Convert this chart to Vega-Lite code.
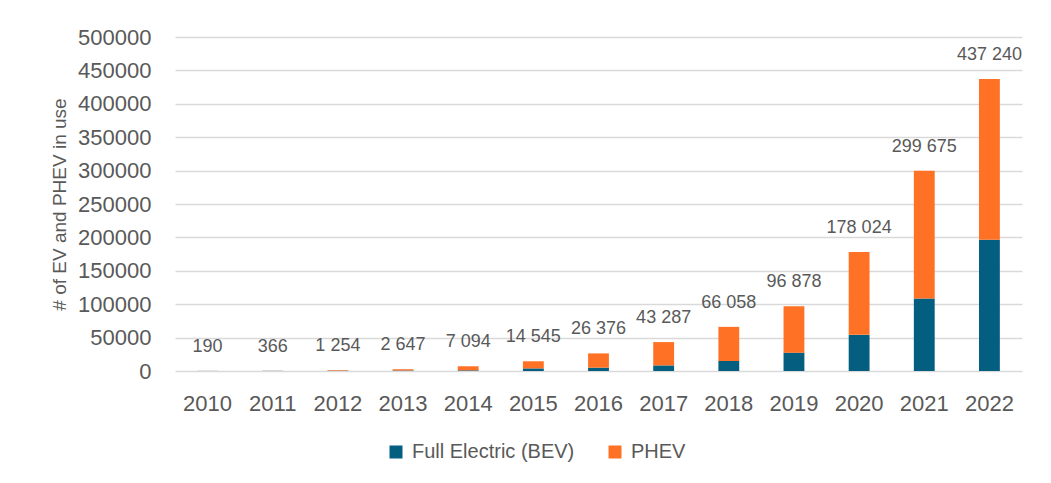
{
  "$schema": "https://vega.github.io/schema/vega-lite/v6.json",
  "width": 847,
  "height": 334,
  "autosize": "none",
  "padding": {"left": 175, "top": 37, "right": 29, "bottom": 112},
  "background": "white",
  "config": {
    "locale": {"number": {"decimal": ".", "thousands": " ", "grouping": [3], "currency": ["", ""]}},
    "view": {"stroke": null},
    "font": "Liberation Sans",
    "axisY": {
      "titleFontSize": 19,
      "titleFontWeight": "normal",
      "titleColor": "#595959",
      "titlePadding": 8,
      "labelOverlap": false,
      "labelFontSize": 22,
      "labelColor": "#595959",
      "labelPadding": 24,
      "ticks": false,
      "domain": false,
      "gridColor": "#D9D9D9",
      "gridWidth": 1.3
    }
  },
  "data": {
    "values": [
      {"year": "2010", "type": "Full Electric (BEV)", "value": 100},
      {"year": "2010", "type": "PHEV", "value": 90},
      {"year": "2011", "type": "Full Electric (BEV)", "value": 200},
      {"year": "2011", "type": "PHEV", "value": 166},
      {"year": "2012", "type": "Full Electric (BEV)", "value": 400},
      {"year": "2012", "type": "PHEV", "value": 854},
      {"year": "2013", "type": "Full Electric (BEV)", "value": 700},
      {"year": "2013", "type": "PHEV", "value": 1947},
      {"year": "2014", "type": "Full Electric (BEV)", "value": 1000},
      {"year": "2014", "type": "PHEV", "value": 6094},
      {"year": "2015", "type": "Full Electric (BEV)", "value": 3900},
      {"year": "2015", "type": "PHEV", "value": 10645},
      {"year": "2016", "type": "Full Electric (BEV)", "value": 5000},
      {"year": "2016", "type": "PHEV", "value": 21376},
      {"year": "2017", "type": "Full Electric (BEV)", "value": 8400},
      {"year": "2017", "type": "PHEV", "value": 34887},
      {"year": "2018", "type": "Full Electric (BEV)", "value": 15000},
      {"year": "2018", "type": "PHEV", "value": 51058},
      {"year": "2019", "type": "Full Electric (BEV)", "value": 27500},
      {"year": "2019", "type": "PHEV", "value": 69378},
      {"year": "2020", "type": "Full Electric (BEV)", "value": 54100},
      {"year": "2020", "type": "PHEV", "value": 123924},
      {"year": "2021", "type": "Full Electric (BEV)", "value": 108700},
      {"year": "2021", "type": "PHEV", "value": 190975},
      {"year": "2022", "type": "Full Electric (BEV)", "value": 196400},
      {"year": "2022", "type": "PHEV", "value": 240840}
    ]
  },
  "encoding": {
    "x": {
      "field": "year",
      "type": "ordinal",
      "scale": {"paddingInner": 0.68, "paddingOuter": 0.34},
      "axis": {
        "title": null,
        "labelAngle": 0,
        "labelFontSize": 22,
        "labelColor": "#595959",
        "labelPadding": 22,
        "ticks": false,
        "domain": false
      }
    }
  },
  "layer": [
    {
      "mark": {"type": "bar"},
      "encoding": {
        "y": {
          "field": "value",
          "type": "quantitative",
          "stack": "zero",
          "scale": {"domain": [0, 500000], "nice": false},
          "axis": {
            "title": "# of EV and PHEV in use",
            "format": "d",
            "values": [0, 50000, 100000, 150000, 200000, 250000, 300000, 350000, 400000, 450000, 500000]
          }
        },
        "color": {
          "field": "type",
          "type": "nominal",
          "scale": {"domain": ["Full Electric (BEV)", "PHEV"], "range": ["#045E80", "#FF7225"]},
          "legend": {
            "title": null,
            "orient": "none",
            "legendX": 211,
            "legendY": 405,
            "padding": 0,
            "direction": "horizontal",
            "symbolType": "square",
            "symbolSize": 169,
            "symbolStrokeWidth": 0,
            "labelFontSize": 20,
            "labelLimit": 400,
            "labelColor": "#595959",
            "labelOffset": 6,
            "columnPadding": 30
          }
        },
        "order": {"field": "type", "sort": "ascending"}
      }
    },
    {
      "transform": [
        {"aggregate": [{"op": "sum", "field": "value", "as": "total"}], "groupby": ["year"]}
      ],
      "mark": {"type": "text", "baseline": "alphabetic", "dy": -19, "fontSize": 18, "color": "#595959"},
      "encoding": {
        "y": {
          "field": "total",
          "type": "quantitative",
          "axis": {
            "title": "# of EV and PHEV in use",
            "format": "d",
            "values": [0, 50000, 100000, 150000, 200000, 250000, 300000, 350000, 400000, 450000, 500000]
          }
        },
        "text": {"field": "total", "type": "quantitative", "format": ",d"}
      }
    }
  ]
}
